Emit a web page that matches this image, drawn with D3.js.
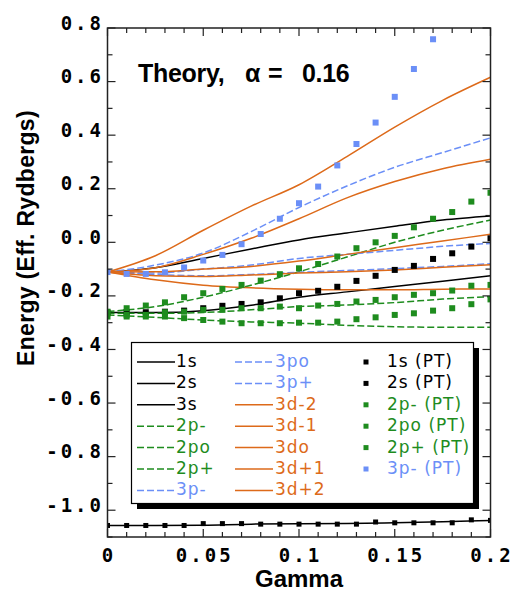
<!DOCTYPE html>
<html><head><meta charset="utf-8">
<script src="https://cdn.jsdelivr.net/npm/d3@7"></script>
<style>body{margin:0;background:#fff}svg{display:block}</style>
</head><body><svg id="c" width="516" height="594"></svg>
<script>
// ---- data ----
const lineGamma = [0, 0.025, 0.05, 0.075, 0.1, 0.125, 0.15, 0.175, 0.2];
const s1 = [-1.057, -1.057, -1.056, -1.052, -1.051, -1.050, -1.047, -1.043, -1.038];
const s2 = [-0.262, -0.262, -0.255, -0.235, -0.205, -0.185, -0.165, -0.145, -0.125];
const s3 = [-0.111, -0.095, -0.06, -0.025, 0.009, 0.035, 0.06, 0.083, 0.098];
const p2m = [-0.258, -0.24, -0.205, -0.16, -0.11, -0.055, 0.0, 0.045, 0.083];
const p2o = [-0.265, -0.265, -0.262, -0.252, -0.240, -0.234, -0.225, -0.212, -0.203];
const p2p = [-0.271, -0.28, -0.29, -0.297, -0.302, -0.31, -0.315, -0.317, -0.317];
const p3m = [-0.111, -0.085, -0.04, 0.04, 0.13, 0.21, 0.28, 0.335, 0.39];
const p3o = [-0.111, -0.115, -0.10, -0.085, -0.06, -0.045, -0.03, -0.015, -0.004];
const p3p = [-0.111, -0.12, -0.125, -0.12, -0.112, -0.105, -0.098, -0.09, -0.08];
const d3m2 = [-0.111, -0.05, 0.045, 0.135, 0.215, 0.32, 0.43, 0.53, 0.616];
const d3m1 = [-0.111, -0.095, -0.045, 0.015, 0.088, 0.166, 0.227, 0.275, 0.31];
const d3o = [-0.111, -0.11, -0.10, -0.09, -0.07, -0.045, -0.02, 0.005, 0.03];
const d3p1 = [-0.111, -0.125, -0.128, -0.122, -0.115, -0.11, -0.103, -0.093, -0.084];
const d3p2 = [-0.111, -0.14, -0.16, -0.17, -0.175, -0.177, -0.177, -0.175, -0.174];

const ptGamma = [0, 0.01, 0.02, 0.03, 0.04, 0.05, 0.06, 0.07, 0.08, 0.09, 0.1, 0.11, 0.12, 0.13, 0.14, 0.15, 0.16, 0.17, 0.18, 0.19, 0.2];
const s1PT = [-1.057, -1.057, -1.057, -1.057, -1.057, -1.050, -1.050, -1.050, -1.052, -1.052, -1.052, -1.052, -1.052, -1.052, -1.044, -1.047, -1.047, -1.047, -1.047, -1.036, -1.038];
const s2PT = [-0.262, -0.261, -0.261, -0.259, -0.255, -0.246, -0.237, -0.230, -0.224, -0.209, -0.190, -0.181, -0.166, -0.144, -0.125, -0.103, -0.088, -0.062, -0.041, -0.016, 0.015];
const p2mPT = [-0.259, -0.246, -0.236, -0.224, -0.205, -0.190, -0.174, -0.159, -0.143, -0.119, -0.097, -0.081, -0.053, -0.022, 0.000, 0.024, 0.056, 0.088, 0.113, 0.152, 0.185];
const p2oPT = [-0.265, -0.271, -0.271, -0.261, -0.259, -0.252, -0.252, -0.246, -0.246, -0.240, -0.246, -0.236, -0.230, -0.221, -0.215, -0.205, -0.196, -0.190, -0.180, -0.162, -0.159];
const p2pPT = [-0.277, -0.277, -0.277, -0.277, -0.283, -0.290, -0.296, -0.302, -0.302, -0.302, -0.300, -0.300, -0.296, -0.287, -0.280, -0.271, -0.265, -0.255, -0.246, -0.231, -0.213];
const p3mPT = [-0.111, -0.118, -0.118, -0.112, -0.094, -0.068, -0.047, -0.007, 0.031, 0.088, 0.146, 0.208, 0.287, 0.367, 0.447, 0.543, 0.647, 0.758];

const xTicks = [0, 0.05, 0.1, 0.15, 0.2];
const xTickLabels = ["0", "0.05", "0.1", "0.15", "0.2"];
const yTicks = [0.8, 0.6, 0.4, 0.2, 0.0, -0.2, -0.4, -0.6, -0.8, -1.0];
const yTickLabels = ["0.8", "0.6", "0.4", "0.2", "0.0", "-0.2", "-0.4", "-0.6", "-0.8", "-1.0"];
const titleParts = ["Theory,", "α", "=", "0.16"];

const BLACK = "#000", GREEN = "#1e8c1e", BLUE = "#6b8ff7", ORANGE = "#dd6a1a";

const lines = [
  {name: "1s", v: s1, c: BLACK, dash: null},
  {name: "2s", v: s2, c: BLACK, dash: null},
  {name: "3s", v: s3, c: BLACK, dash: null},
  {name: "2p-", v: p2m, c: GREEN, dash: "7,3"},
  {name: "2po", v: p2o, c: GREEN, dash: "7,3"},
  {name: "2p+", v: p2p, c: GREEN, dash: "7,3"},
  {name: "3p-", v: p3m, c: BLUE, dash: "7,3"},
  {name: "3po", v: p3o, c: BLUE, dash: "7,3"},
  {name: "3p+", v: p3p, c: BLUE, dash: "7,3"},
  {name: "3d-2", v: d3m2, c: ORANGE, dash: null},
  {name: "3d-1", v: d3m1, c: ORANGE, dash: null},
  {name: "3do", v: d3o, c: ORANGE, dash: null},
  {name: "3d+1", v: d3p1, c: ORANGE, dash: null},
  {name: "3d+2", v: d3p2, c: ORANGE, dash: null}
];
const pts = [
  {name: "1s (PT)", v: s1PT, c: BLACK, s: 5},
  {name: "2s (PT)", v: s2PT, c: BLACK, s: 6},
  {name: "2p- (PT)", v: p2mPT, c: GREEN, s: 6},
  {name: "2po (PT)", v: p2oPT, c: GREEN, s: 6},
  {name: "2p+ (PT)", v: p2pPT, c: GREEN, s: 6},
  {name: "3p- (PT)", v: p3mPT, c: BLUE, s: 6}
];

// ---- layout ----
const svg = d3.select("#c");
const L = 107.5, R = 490.5, T = 28, B = 537;
const x = d3.scaleLinear().domain([0, 0.2]).range([L, R]);
const y = d3.scaleLinear().domain([-1.1, 0.8]).range([B, T]);

svg.append("defs").append("clipPath").attr("id", "clip")
  .append("rect").attr("x", L).attr("y", T).attr("width", R - L).attr("height", B - T);

const plot = svg.append("g").attr("clip-path", "url(#clip)");
const lineGen = d3.line().x((d, i) => x(lineGamma[i])).y(d => y(d)).curve(d3.curveMonotoneX);
lines.forEach(s => {
  plot.append("path").attr("d", lineGen(s.v)).attr("fill", "none")
    .attr("stroke", s.c).attr("stroke-width", 1.5)
    .attr("stroke-dasharray", s.dash);
});
pts.forEach(s => {
  plot.selectAll(null).data(s.v).enter().append("rect")
    .attr("x", (d, i) => x(ptGamma[i]) - s.s / 2)
    .attr("y", d => y(d) - s.s / 2)
    .attr("width", s.s).attr("height", s.s).attr("fill", s.c);
});

// ---- frame & ticks ----
const tk = svg.append("g").attr("stroke", "#222").attr("stroke-width", 1.2);
const xMinor = d3.range(0, 21).map(i => i / 100);
const yMinor = d3.range(-11, 9).map(i => i / 10);
xMinor.forEach(v => {
  const major = xTicks.some(t => Math.abs(t - v) < 1e-9);
  const len = major ? 8 : 5;
  tk.append("line").attr("x1", x(v)).attr("x2", x(v)).attr("y1", B).attr("y2", B - len);
  tk.append("line").attr("x1", x(v)).attr("x2", x(v)).attr("y1", T).attr("y2", T + len);
});
yMinor.forEach(v => {
  const major = yTicks.some(t => Math.abs(t - v) < 1e-9);
  const len = major ? 8 : 5;
  tk.append("line").attr("y1", y(v)).attr("y2", y(v)).attr("x1", L).attr("x2", L + len);
  tk.append("line").attr("y1", y(v)).attr("y2", y(v)).attr("x1", R).attr("x2", R - len);
});
svg.append("rect").attr("x", L).attr("y", T).attr("width", R - L).attr("height", B - T)
  .attr("fill", "none").attr("stroke", "#222").attr("stroke-width", 1.5);

const tickFont = "'DejaVu Sans Mono', monospace";
svg.selectAll(".yl").data(yTicks).enter().append("text")
  .attr("x", 104).attr("y", d => y(d) - 4).attr("text-anchor", "end").attr("dominant-baseline", "middle")
  .attr("font-family", tickFont).attr("font-weight", "bold").attr("font-size", 19)
  .attr("letter-spacing", "3px")
  .text((d, i) => yTickLabels[i]);
svg.selectAll(".xl").data(xTicks).enter().append("text")
  .attr("x", d => x(d) + 1.5).attr("y", 556).attr("text-anchor", "middle").attr("dominant-baseline", "middle")
  .attr("font-family", tickFont).attr("font-weight", "bold").attr("font-size", 19)
  .attr("letter-spacing", "3px")
  .text((d, i) => xTickLabels[i]);

const sansBold = "'Liberation Sans', Arial, sans-serif";
svg.append("text").attr("x", x(0.1)).attr("y", 587).attr("text-anchor", "middle")
  .attr("font-family", sansBold).attr("font-weight", "bold").attr("font-size", 24).text("Gamma");
svg.append("text").attr("transform", "translate(28,238) rotate(-90)").attr("text-anchor", "middle")
  .attr("dominant-baseline", "middle").attr("font-family", sansBold)
  .attr("font-weight", "bold").attr("font-size", 23).attr("letter-spacing", "0.3px").text("Energy (Eff. Rydbergs)");

const titleX = [138, 245, 268, 302];
titleParts.forEach((t, i) => {
  svg.append("text").attr("x", titleX[i]).attr("y", 82)
    .attr("font-family", sansBold).attr("font-weight", "bold")
    .attr("font-size", 25).attr("letter-spacing", "-0.3px").text(t);
});

// ---- legend ----
const lg = svg.append("g");
lg.append("rect").attr("x", 137).attr("y", 348).attr("width", 342).attr("height", 161).attr("fill", "#000");
lg.append("rect").attr("x", 131.5).attr("y", 342.5).attr("width", 342).attr("height", 161)
  .attr("fill", "#fff").attr("stroke", "#000").attr("stroke-width", 1.2);
const rowY = i => 362 + i * 21.4;
const lgFont = "'DejaVu Sans', sans-serif";
const col1 = lines.slice(0, 7), col2 = lines.slice(7);
[[col1, 137, 176], [col2, 235, 275]].forEach(([arr, x0, tx]) => {
  arr.forEach((s, i) => {
    lg.append("line").attr("x1", x0).attr("x2", x0 + 38).attr("y1", rowY(i)).attr("y2", rowY(i))
      .attr("stroke", s.c).attr("stroke-width", 1.5).attr("stroke-dasharray", s.dash);
    lg.append("text").attr("x", tx).attr("y", rowY(i)).attr("dominant-baseline", "middle")
      .attr("font-family", lgFont).attr("font-size", 17).attr("letter-spacing", "1px")
      .attr("fill", s.c).text(s.name);
  });
});
pts.forEach((s, i) => {
  lg.append("rect").attr("x", 366 - 2.5).attr("y", rowY(i) - 2.5).attr("width", 5).attr("height", 5).attr("fill", s.c);
  lg.append("text").attr("x", 387).attr("y", rowY(i)).attr("dominant-baseline", "middle")
    .attr("font-family", lgFont).attr("font-size", 17).attr("letter-spacing", "1px")
    .attr("fill", s.c).text(s.name);
});
</script></body></html>
